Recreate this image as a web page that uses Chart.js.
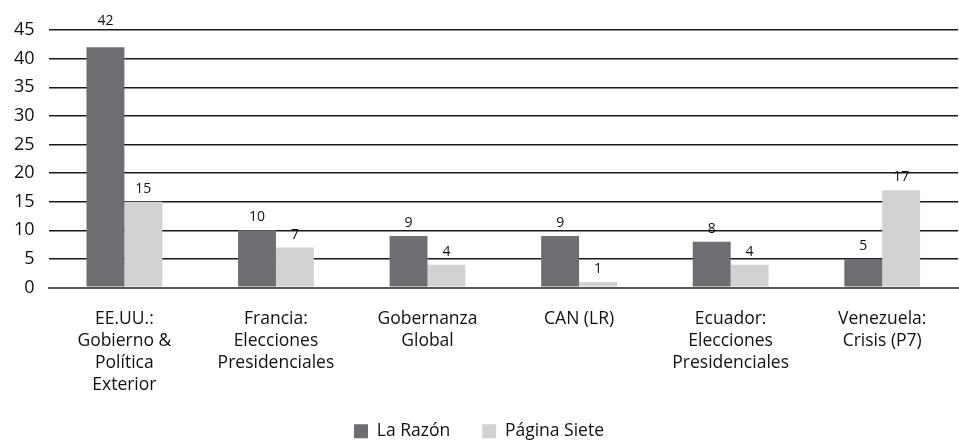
<!DOCTYPE html>
<html>
<head>
<meta charset="utf-8">
<script src="https://cdn.jsdelivr.net/npm/chart.js@4"></script>
<style>
  html, body { margin: 0; padding: 0; background: #fff; }
  #wrap { width: 959px; height: 444px; }
</style>
</head>
<body>
<div id="wrap"><canvas id="chart"></canvas></div>
<script>
const categories = [
    ['EE.UU.:', 'Gobierno &', 'Política', 'Exterior'],
    ['Francia:', 'Elecciones', 'Presidenciales'],
    ['Gobernanza', 'Global'],
    ['CAN (LR)'],
    ['Ecuador:', 'Elecciones', 'Presidenciales'],
    ['Venezuela:', 'Crisis (P7)']
];
const laRazon = [42, 10, 9, 9, 8, 5];
const paginaSiete = [15, 7, 4, 1, 4, 17];
const yTicks = [0, 5, 10, 15, 20, 25, 30, 35, 40, 45];

const FONT = "'Open Sans', sans-serif";

// draws the value above each bar; the tallest one goes above the plot
const barLabels = {
    id: 'barLabels',
    afterDatasetsDraw(chart) {
        const ctx = chart.ctx;
        const top = chart.chartArea.top;
        ctx.save();
        ctx.font = '14px ' + FONT;
        ctx.fillStyle = '#111';
        ctx.textAlign = 'center';
        ctx.textBaseline = 'alphabetic';
        chart.data.datasets.forEach((ds, i) => {
            chart.getDatasetMeta(i).data.forEach((bar, j) => {
                let y = bar.y - 9;
                if (y < top + 12) y = top - 5;
                ctx.fillText(ds.data[j], bar.x, y);
            });
        });
        ctx.restore();
    }
};

new Chart(document.getElementById('chart'), {
    type: 'bar',
    data: {
        labels: categories,
        datasets: [{
            label: 'La Razón',
            data: laRazon,
            backgroundColor: '#6d6e71'
        }, {
            label: 'Página Siete',
            data: paginaSiete,
            backgroundColor: '#d1d2d4'
        }]
    },
    options: {
        responsive: true,
        maintainAspectRatio: false,
        animation: false,
        layout: { padding: { top: 30, right: 1, left: 0, bottom: -6 } },
        datasets: { bar: { categoryPercentage: 0.5, barPercentage: 1 } },
        scales: {
            x: {
                clip: false,
                // labels may run into the legend's empty top padding
                afterFit(axis) { axis.height -= 18; },
                grid: { display: false },
                border: { color: '#595959', width: 2 },
                ticks: {
                    color: '#111',
                    font: { family: FONT, size: 17.5, lineHeight: 1.27 },
                    maxRotation: 0,
                    autoSkip: false,
                    padding: 12
                }
            },
            y: {
                min: 0,
                max: 45,
                afterBuildTicks(axis) { axis.ticks = yTicks.map(v => ({ value: v })); },
                grid: {
                    color: ctx => ctx.tick && ctx.tick.value === 0 ? '#595959' : '#1a1a1a',
                    lineWidth: ctx => ctx.tick && ctx.tick.value === 0 ? 2 : 1.4,
                    drawTicks: false
                },
                border: { display: false },
                ticks: {
                    color: '#111',
                    font: { family: FONT, size: 18 },
                    padding: 14
                }
            }
        },
        plugins: {
            legend: {
                position: 'bottom',
                labels: {
                    color: '#111',
                    font: { family: FONT, size: 17.5 },
                    boxWidth: 14,
                    boxHeight: 14,
                    padding: 32
                }
            },
            tooltip: { enabled: false }
        }
    },
    plugins: [barLabels]
});
</script>
</body>
</html>
